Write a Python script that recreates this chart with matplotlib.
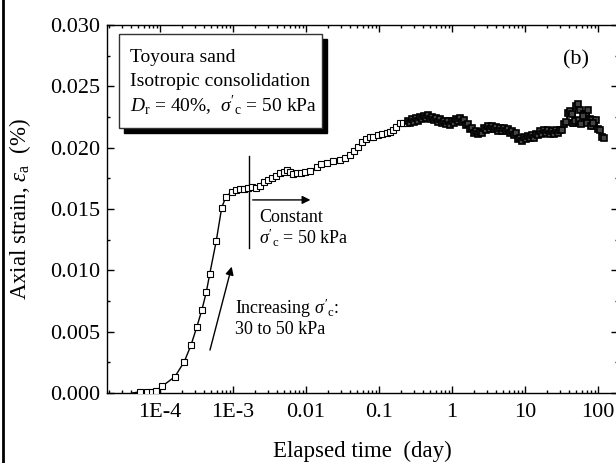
import matplotlib
matplotlib.use("Agg")
import matplotlib.pyplot as plt
from matplotlib.patches import Rectangle
from matplotlib.lines import Line2D
from matplotlib.ticker import FixedLocator, FixedFormatter, FormatStrFormatter, MultipleLocator, LogLocator

plt.rcParams['font.family'] = ['Liberation Serif', 'DejaVu Serif']
plt.rcParams['mathtext.fontset'] = 'custom'
plt.rcParams['mathtext.rm'] = 'Liberation Serif'
plt.rcParams['mathtext.it'] = 'Liberation Serif:italic'

# elapsed time (day) and axial strain (%)
# loading stage: sigma'c raised from 30 to 50 kPa
time_load = [5.3e-5, 6.6e-5, 7.8e-5, 8.8e-5, 1.08e-4, 1.6e-4, 2.15e-4, 2.66e-4,
             3.2e-4, 3.76e-4, 4.3e-4, 4.8e-4, 5.9e-4, 7.0e-4, 8.0e-4]
strain_load = [0.0001, 0.0001, 0.0001, 0.0002, 0.00057, 0.00133, 0.00255, 0.0039,
               0.0054, 0.0068, 0.0082, 0.0097, 0.0124, 0.0151, 0.0160]

# constant sigma'c, sparse part
time_early = [9.6e-4, 1.10e-3, 1.25e-3, 1.42e-3, 1.60e-3, 1.82e-3, 2.07e-3, 2.34e-3,
              2.66e-3, 3.01e-3, 3.42e-3, 3.88e-3, 4.41e-3, 5.0e-3, 5.5e-3, 6.04e-3,
              6.64e-3, 7.54e-3, 8.55e-3, 9.7e-3, 1.14e-2, 1.40e-2, 1.60e-2, 1.92e-2,
              2.34e-2, 2.92e-2, 3.42e-2, 4.01e-2, 4.55e-2, 5.2e-2, 5.8e-2, 6.64e-2,
              7.5e-2, 8.3e-2, 9.7e-2, 0.110, 0.127, 0.142, 0.156, 0.171, 0.194,
              0.213, 0.239]
strain_early = [0.01640, 0.01655, 0.01660, 0.01665, 0.01670, 0.01680, 0.01675, 0.01690,
                0.01720, 0.01740, 0.01750, 0.01770, 0.01790, 0.01800, 0.01820, 0.01800,
                0.01785, 0.01790, 0.01790, 0.01805, 0.01813, 0.01846, 0.01864, 0.01879,
                0.01888, 0.01901, 0.01917, 0.01941, 0.01974, 0.02009, 0.02050, 0.02068,
                0.02084, 0.02091, 0.02100, 0.02109, 0.02118, 0.02129, 0.02145, 0.02170,
                0.02200, 0.02202, 0.02205]

# constant sigma'c, dense long-term part
time_late = [0.2495, 0.2659, 0.2833, 0.3017, 0.3212, 0.3421, 0.3643, 0.3882, 0.4134,
             0.4403, 0.4690, 0.4995, 0.5321, 0.5667, 0.6036, 0.6430, 0.6849, 0.7295,
             0.7770, 0.8276, 0.8814, 0.9389, 1.000, 1.065, 1.135, 1.208, 1.287, 1.371,
             1.460, 1.555, 1.657, 1.765, 1.880, 2.002, 2.132, 2.271, 2.419, 2.577,
             2.745, 2.924, 3.114, 3.317, 3.533, 3.763, 4.009, 4.270, 4.548, 4.844,
             5.160, 5.496, 5.854, 6.236, 6.642, 7.075, 7.536, 8.027, 8.550, 9.107,
             9.701, 10.33, 11.01, 11.72, 12.49, 13.30, 14.17, 15.09, 16.07, 17.12,
             18.24, 19.42, 20.69, 22.04, 23.47, 25.00, 26.63, 28.37, 30.22, 32.19,
             34.28, 36.52, 38.90, 41.43, 44.13, 47.01, 50.07, 53.34, 56.81, 60.52,
             64.46, 68.66, 73.14, 77.90, 82.98, 88.39, 94.15, 100.3, 106.8, 113.8,
             121.2]
strain_late = [0.02218, 0.02199, 0.02230, 0.02213, 0.02239, 0.02219, 0.02247, 0.02231,
               0.02262, 0.02245, 0.02264, 0.02235, 0.02252, 0.02223, 0.02241, 0.02212,
               0.02231, 0.02202, 0.02221, 0.02193, 0.02215, 0.02188, 0.02217, 0.02203,
               0.02235, 0.02216, 0.02245, 0.02213, 0.02222, 0.02182, 0.02190, 0.02150,
               0.02157, 0.02123, 0.02137, 0.02109, 0.02130, 0.02118, 0.02157, 0.02145,
               0.02175, 0.02154, 0.02179, 0.02153, 0.02169, 0.02138, 0.02157, 0.02133,
               0.02157, 0.02133, 0.02152, 0.02121, 0.02136, 0.02103, 0.02116, 0.02068,
               0.02076, 0.02054, 0.02084, 0.02068, 0.02097, 0.02076, 0.02102, 0.02081,
               0.02112, 0.02100, 0.02133, 0.02115, 0.02142, 0.02119, 0.02140, 0.02113,
               0.02134, 0.02113, 0.02141, 0.02118, 0.02143, 0.02143, 0.02192, 0.02208,
               0.02280, 0.02296, 0.02271, 0.02199, 0.02337, 0.02354, 0.02304, 0.02215,
               0.02271, 0.02273, 0.02304, 0.02231, 0.02223, 0.02173, 0.02223, 0.02150,
               0.02147, 0.02084, 0.02076]

# extra stacked points in the noisy column region (days 40-90)
time_stack = [46.0, 49.0, 55.0, 58.0, 63.0, 70.0, 80.0, 86.0]
strain_stack = [0.02200, 0.02215, 0.02225, 0.02190, 0.02260, 0.02200, 0.02180, 0.02200]

xtick_vals = [1e-4, 1e-3, 1e-2, 1e-1, 1, 10, 100]
xtick_labels = ['1E-4', '1E-3', '0.01', '0.1', '1', '10', '100']

time_sparse = time_load + time_early
strain_sparse = strain_load + strain_early

fig = plt.figure(figsize=(6.16, 4.63), dpi=100)
ax = fig.add_axes([107 / 616, 70 / 463, 511 / 616, 368 / 463])

ax.plot([4.2e-5] + time_load + time_early[:2], [0.0] + strain_load + strain_early[:2],
        color='black', lw=1.0, zorder=2)
ax.plot(time_sparse, strain_sparse, linestyle='none', marker='s', ms=4.3, mfc='white',
        mec='black', mew=0.8, zorder=3)
ax.plot(time_late, strain_late, color='black', lw=1.4, zorder=2)
ax.plot(time_late, strain_late, linestyle='none', marker='s', ms=4.5, mfc='#444444',
        mec='black', mew=1.2, zorder=3)
ax.plot(time_stack, strain_stack, linestyle='none', marker='s', ms=4.5, mfc='#444444',
        mec='black', mew=1.2, zorder=3)

ax.set_xscale('log')
ax.set_xlim(1.88e-5, 188)
ax.set_ylim(0, 0.030)

ax.xaxis.set_major_locator(FixedLocator(xtick_vals))
ax.xaxis.set_major_formatter(FixedFormatter(xtick_labels))
ax.xaxis.set_minor_locator(LogLocator(base=10, subs=range(2, 10), numticks=20))
ax.yaxis.set_major_locator(MultipleLocator(0.005))
ax.yaxis.set_minor_locator(MultipleLocator(0.0025))
ax.yaxis.set_major_formatter(FormatStrFormatter('%.3f'))

ax.tick_params(which='both', direction='in', top=True, right=True, width=1.0)
ax.tick_params(which='major', length=5, labelsize=16)
ax.tick_params(which='minor', length=2.5)
ax.tick_params(axis='x', which='major', pad=7)
ax.tick_params(axis='y', which='major', pad=5)
for s in ax.spines.values():
    s.set_linewidth(1.0)

ax.set_xlabel('Elapsed time  (day)', fontsize=16.5, labelpad=14)
ax.set_ylabel(r'Axial strain, $\varepsilon_{\mathrm{a}}$  (%)', fontsize=16.5, labelpad=12)

# annotations
ax.plot([1.67e-3, 1.67e-3], [0.0118, 0.0193], color='black', lw=1.0)
ax.annotate('', xy=(1.15e-2, 0.01574), xytext=(1.86e-3, 0.01574),
            arrowprops=dict(arrowstyle='-|>', color='black', lw=1.0,
                            mutation_scale=12, shrinkA=0, shrinkB=0))
ax.text(2.27e-3, 0.01430, 'Constant', fontsize=13, va='center', ha='left')
ax.text(2.27e-3, 0.01264, r"$\sigma'_{\mathrm{c}}$ = 50 kPa", fontsize=13,
        va='center', ha='left')
ax.annotate('', xy=(9.6e-4, 0.0103), xytext=(4.84e-4, 0.0035),
            arrowprops=dict(arrowstyle='-|>', color='black', lw=1.0,
                            mutation_scale=12, shrinkA=0, shrinkB=0))
ax.text(1.06e-3, 0.00690, r"Increasing $\sigma'_{\mathrm{c}}$:", fontsize=13,
        va='center', ha='left')
ax.text(1.06e-3, 0.00520, '30 to 50 kPa', fontsize=13, va='center', ha='left')
ax.text(50, 0.02716, '(b)', fontsize=16, va='center', ha='center')

# text box with drop shadow
bx, by, bw, bh = 119 / 616, 335 / 463, 203 / 616, 94 / 463
fig.patches.append(Rectangle((bx + 5 / 616, by - 5 / 463), bw, bh, transform=fig.transFigure,
                             facecolor='black', edgecolor='black', zorder=5))
fig.patches.append(Rectangle((bx, by), bw, bh, transform=fig.transFigure,
                             facecolor='white', edgecolor='#333333', lw=1.0, zorder=6))
fig.text(130 / 616, 405 / 463, 'Toyoura sand', fontsize=14, va='center', zorder=7)
fig.text(130 / 616, 381 / 463, 'Isotropic consolidation', fontsize=14, va='center', zorder=7)
fig.text(130 / 616, 357 / 463, r"$D_{\mathrm{r}}$ = 40%,  $\sigma'_{\mathrm{c}}$ = 50 kPa",
         fontsize=14, va='center', zorder=7)

# left frame line
fig.lines.append(Line2D([3 / 616, 3 / 616], [0, 1], transform=fig.transFigure,
                        color='black', lw=2.0))

fig.savefig('out.png', dpi=100)
